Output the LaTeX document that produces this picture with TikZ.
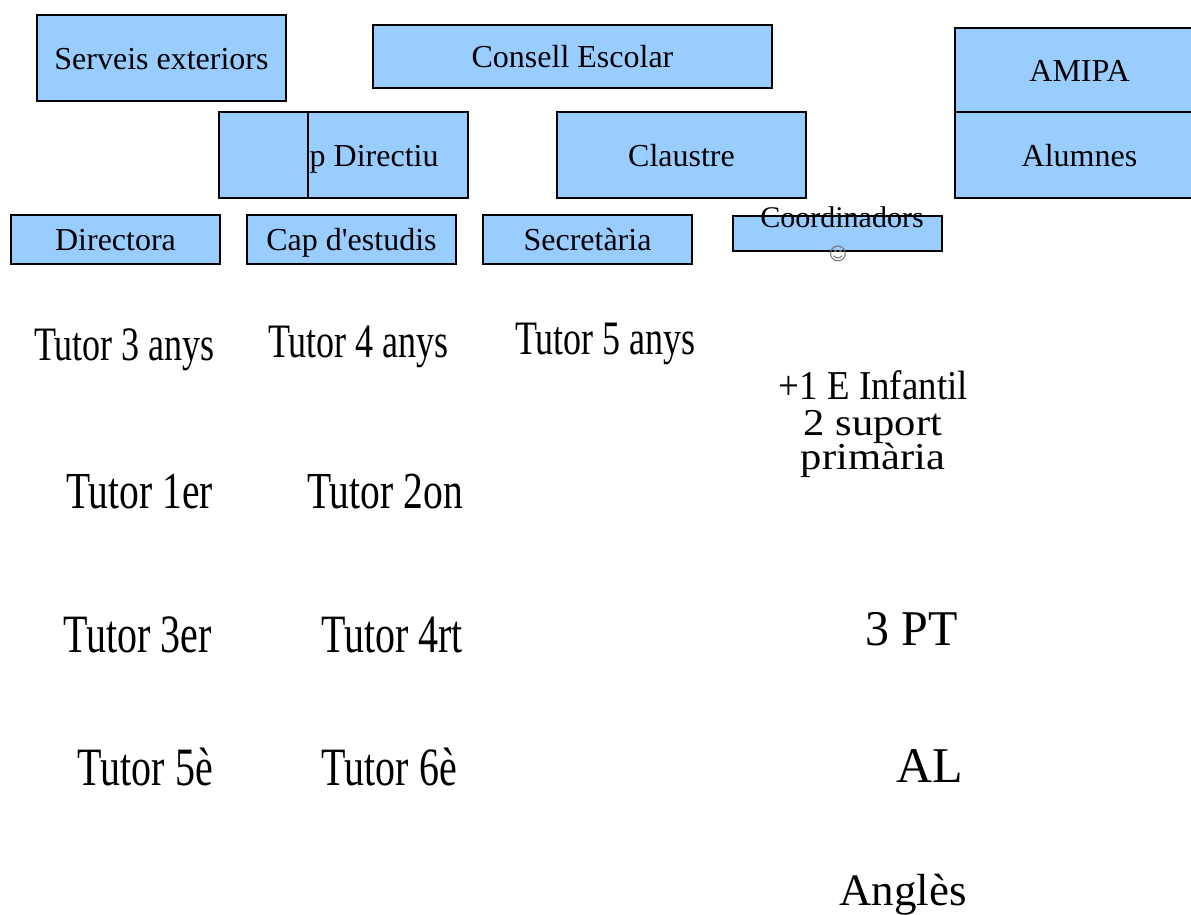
\documentclass[tikz,border=0pt]{standalone}
\usepackage{graphicx}
\usepackage{fontspec}
\setmainfont{Liberation Serif}
\newfontfamily\symfont{DejaVu Sans}
\definecolor{boxblue}{HTML}{99CCFF}
\newcommand{\sx}[2]{\scalebox{#1}[1]{#2}}
\begin{document}
\begin{tikzpicture}[x=1pt,y=-1pt,
  box/.style={draw=black, fill=boxblue, line width=2pt, inner sep=0pt,
    text height=22pt, text depth=0pt, font=\fontsize{32}{36}\selectfont},
  lbl/.style={inner sep=0pt, anchor=base east},
  clbl/.style={inner sep=0pt, anchor=base},
  fA/.style={font=\fontsize{48}{56}\selectfont},
  fB/.style={font=\fontsize{52}{60}\selectfont},
  fC/.style={font=\fontsize{54}{62}\selectfont}]
\useasboundingbox (0,0) rectangle (1191,914);

% top boxes
\node[box, minimum width=249pt, minimum height=86pt] (serveis) at (161.5,58) {Serveis exteriors};
\node[box, minimum width=399pt, minimum height=63pt] (consell) at (572.5,56.5) {Consell Escolar};
\node[box, minimum width=249pt, minimum height=84pt] (amipa) at (1079.5,70) {AMIPA};
\node[box, minimum width=249pt, minimum height=86pt] (alumnes) at (1079.5,155) {Alumnes};

% second row
\node[box, minimum width=249pt, minimum height=86pt] (directiu) at (343.5,155) {};
\node[box, minimum width=89pt, minimum height=86pt] (directiul) at (263.5,155) {};
\node[inner sep=0pt, anchor=base west, font=\fontsize{32}{36}\selectfont] (directiutxt) at (309.5,166) {p Directiu};
\node[box, minimum width=249pt, minimum height=86pt] (claustre) at (681.5,155) {Claustre};

% third row
\node[box, minimum width=209pt, minimum height=49pt] (directora) at (115.5,239.5) {Directora};
\node[box, minimum width=209pt, minimum height=49pt] (capest) at (351.5,239.5) {Cap d\textquotesingle estudis};
\node[box, minimum width=209pt, minimum height=49pt] (secret) at (587.5,239.5) {Secretària};
\node[box, minimum width=209pt, minimum height=35pt] (coord) at (837.5,233.5) {};
\node[clbl, font=\fontsize{30}{34}\selectfont] (coordtxt) at (842,227) {Coordinadors};
\node[inner sep=0pt, text=black!55, font=\symfont\fontsize{18}{18}\selectfont] (coordsym) at (838,254) {☺};

% tutors
\node[lbl, fA] (t3a) at (215,360) {\sx{0.75}{Tutor 3 anys}};
\node[lbl, fA] (t4a) at (449,357) {\sx{0.75}{Tutor 4 anys}};
\node[lbl, fA] (t5a) at (696,354) {\sx{0.75}{Tutor 5 anys}};
\node[lbl, fB] (t1) at (213,508) {\sx{0.76}{Tutor 1er}};
\node[lbl, fB] (t2) at (463,508) {\sx{0.76}{Tutor 2on}};
\node[lbl, fC] (t3) at (212,652) {\sx{0.74}{Tutor 3er}};
\node[lbl, fC] (t4) at (463,652) {\sx{0.74}{Tutor 4rt}};
\node[lbl, fC] (t5) at (213,785) {\sx{0.74}{Tutor 5è}};
\node[lbl, fC] (t6) at (457,785) {\sx{0.74}{Tutor 6è}};

% right column
\node[lbl, font=\fontsize{41}{48}\selectfont] (inf) at (968,399) {\sx{0.9}{+1 E Infantil}};
\node[clbl, font=\fontsize{38}{44}\selectfont] (sup) at (873,435) {\sx{1.12}{2 suport}};
\node[clbl, font=\fontsize{38}{44}\selectfont] (prim) at (873,469) {\sx{1.12}{primària}};
\node[lbl, font=\fontsize{50}{58}\selectfont] (pt) at (958,645) {\sx{0.96}{3 PT}};
\node[lbl, font=\fontsize{50}{58}\selectfont] (al) at (963,782) {AL};
\node[lbl, font=\fontsize{45}{52}\selectfont] (angles) at (967,905) {Anglès};
\end{tikzpicture}
\end{document}
